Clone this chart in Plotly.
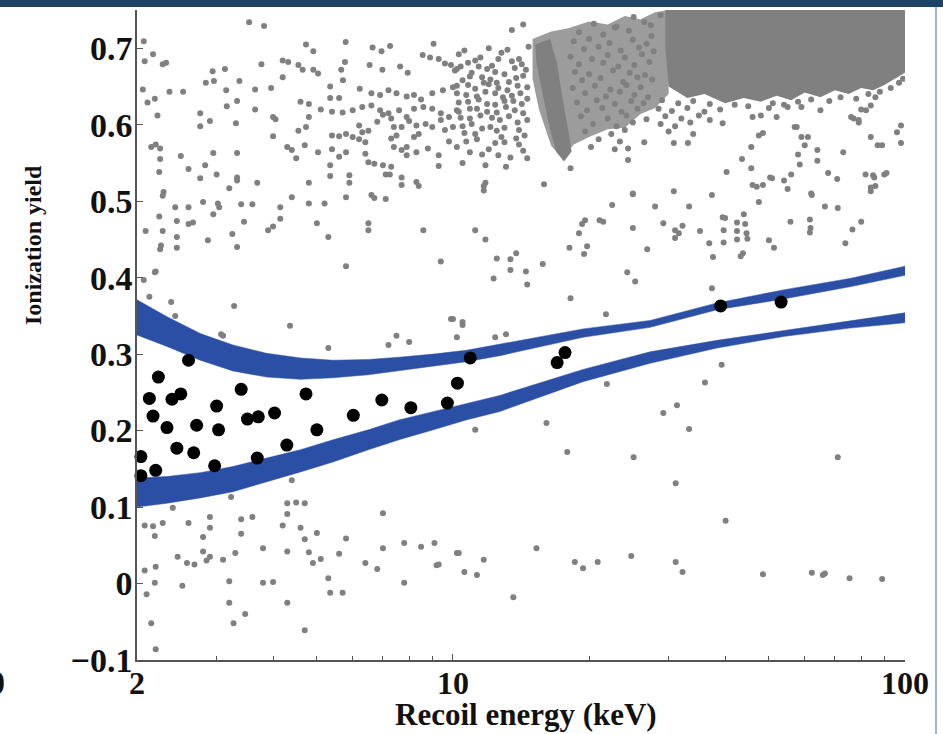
import math
import plotly.graph_objects as go

# ---------------- data ----------------
# black points: measured ionization yield (x = recoil energy keV, y = yield)
black_x = [2.00, 2.04, 2.04, 2.13, 2.17, 2.20, 2.23, 2.33, 2.39, 2.45, 2.50, 2.60, 2.67, 2.71,
           2.97, 3.00, 3.03, 3.40, 3.51, 3.71, 3.69, 4.03, 4.29, 4.73, 5.00, 6.02, 6.96, 8.07,
           9.72, 10.23, 10.92, 17.0, 17.7, 39.1, 53.2]
black_y = [0.219, 0.166, 0.141, 0.242, 0.219, 0.148, 0.270, 0.204, 0.241, 0.177, 0.248, 0.292,
           0.171, 0.207, 0.154, 0.232, 0.201, 0.254, 0.215, 0.218, 0.164, 0.223, 0.181, 0.248,
           0.201, 0.220, 0.240, 0.230, 0.236, 0.262, 0.295, 0.289, 0.302, 0.363, 0.368]

# blue bands (upper = band A, lower = band B)
band_x = [2.0, 2.33, 2.76, 3.26, 3.87, 4.6, 5.43, 6.5, 7.6, 9.05, 10.7, 12.7, 19.4, 27.3, 38.4, 53.8, 75.5, 100.0]
bandA_top = [0.371, 0.349, 0.327, 0.312, 0.301, 0.295, 0.292, 0.293, 0.296, 0.300, 0.305, 0.313, 0.333, 0.344, 0.367, 0.384, 0.399, 0.415]
bandA_bot = [0.325, 0.310, 0.292, 0.278, 0.270, 0.267, 0.269, 0.273, 0.278, 0.284, 0.290, 0.298, 0.322, 0.335, 0.358, 0.372, 0.388, 0.403]
bandB_top = [0.138, 0.140, 0.145, 0.153, 0.164, 0.175, 0.188, 0.201, 0.214, 0.225, 0.236, 0.246, 0.280, 0.303, 0.318, 0.331, 0.344, 0.354]
bandB_bot = [0.100, 0.105, 0.112, 0.120, 0.133, 0.146, 0.159, 0.175, 0.188, 0.201, 0.214, 0.225, 0.264, 0.288, 0.308, 0.323, 0.334, 0.341]

# dense gray clouds (outline of the event populations too dense to resolve)
core_x = [29.5, 100, 100, 95, 90, 85, 80, 75, 70, 65, 60, 56, 52, 48, 44, 40, 36, 33, 30, 29.5]
core_y = [0.75, 0.75, 0.668, 0.660, 0.652, 0.645, 0.648, 0.640, 0.645, 0.636, 0.642, 0.632, 0.638, 0.630, 0.635, 0.628, 0.640, 0.635, 0.650, 0.700]
mid_x = [15.0, 16.5, 18.0, 20.0, 22.0, 24.0, 26.0, 28.0, 30.0, 30.0, 28.0, 26.0, 24.0, 22.0, 20.0, 18.5, 17.5, 16.5, 15.5, 15.0]
mid_y = [0.712, 0.722, 0.726, 0.735, 0.731, 0.742, 0.738, 0.747, 0.750, 0.640, 0.622, 0.614, 0.596, 0.594, 0.584, 0.574, 0.556, 0.572, 0.620, 0.660]
streak_x = [15.2, 16.4, 17.0, 17.4, 17.9, 18.3, 17.6, 16.9, 16.3, 15.8, 15.3]
streak_y = [0.705, 0.712, 0.680, 0.640, 0.600, 0.565, 0.552, 0.565, 0.600, 0.640, 0.680]

# gray points, upper left (2-11 keV, above bands)
gray_ul = [
    (3.54, 0.734), (3.82, 0.729), (2.07, 0.709), (2.17, 0.692), (2.08, 0.683), (2.28, 0.679), (2.32, 0.681),
    (2.06, 0.646), (2.11, 0.629), (2.19, 0.634), (2.36, 0.643), (2.53, 0.643), (2.22, 0.612), (2.94, 0.670),
    (3.13, 0.673), (2.84, 0.655), (2.96, 0.657), (3.37, 0.657), (3.15, 0.645), (3.65, 0.646), (3.77, 0.679),
    (3.33, 0.631), (3.16, 0.624), (3.65, 0.620), (2.76, 0.615), (2.90, 0.605), (2.76, 0.598), (3.31, 0.602),
    (3.96, 0.648), (4.20, 0.684), (4.32, 0.682), (4.20, 0.662), (4.73, 0.705), (4.91, 0.696), (4.55, 0.678),
    (4.65, 0.672), (4.91, 0.672), (5.03, 0.667), (5.79, 0.708), (5.77, 0.682), (5.66, 0.672), (5.71, 0.658),
    (5.35, 0.650), (6.64, 0.701), (6.95, 0.696), (7.26, 0.703), (6.54, 0.678), (6.98, 0.672), (7.64, 0.676),
    (7.94, 0.668), (8.57, 0.691), (9.06, 0.706), (8.9, 0.688), (9.3, 0.686), (9.6, 0.680), (9.9, 0.678),
    (10.2, 0.673), (6.22, 0.647), (6.6, 0.641), (6.9, 0.639), (7.2, 0.645), (7.5, 0.641), (7.9, 0.637),
    (8.2, 0.639), (8.5, 0.633), (9.0, 0.641), (9.5, 0.645), (10.0, 0.649), (4.6, 0.630), (4.8, 0.627),
    (5.1, 0.620), (5.35, 0.635), (5.6, 0.635), (5.4, 0.617), (5.7, 0.616), (6.0, 0.619), (6.3, 0.623),
    (6.6, 0.625), (6.9, 0.619), (7.2, 0.615), (7.6, 0.619), (7.9, 0.610), (8.2, 0.621), (8.6, 0.623),
    (9.0, 0.621), (9.4, 0.615), (9.8, 0.610), (10.2, 0.619), (4.0, 0.610), (4.05, 0.607), (4.8, 0.610),
    (4.0, 0.585), (4.55, 0.592), (4.73, 0.597), (4.7, 0.573), (4.3, 0.571), (4.4, 0.567), (4.5, 0.556),
    (5.03, 0.564), (5.4, 0.568), (5.6, 0.558), (5.8, 0.564), (5.4, 0.586), (5.6, 0.585), (5.8, 0.588),
    (6.0, 0.584), (6.2, 0.599), (6.3, 0.590), (6.5, 0.592), (6.2, 0.581), (6.4, 0.577), (6.8, 0.604),
    (7.0, 0.613), (7.3, 0.608), (7.4, 0.597), (7.5, 0.586), (7.3, 0.582), (7.7, 0.597), (8.0, 0.605),
    (8.3, 0.599), (8.4, 0.588), (8.2, 0.584), (7.9, 0.571), (7.7, 0.567), (8.7, 0.601), (9.0, 0.597),
    (9.4, 0.606), (9.6, 0.593), (10.0, 0.597), (6.4, 0.562), (6.5, 0.551), (6.7, 0.549), (7.0, 0.547),
    (7.3, 0.545), (7.4, 0.571), (7.9, 0.560), (8.3, 0.564), (8.8, 0.569), (9.3, 0.560), (9.8, 0.578),
    (5.35, 0.547), (5.35, 0.533), (5.9, 0.534), (5.9, 0.524), (4.8, 0.524), (4.4, 0.505), (4.8, 0.497),
    (5.2, 0.497), (5.8, 0.505), (6.6, 0.508), (6.7, 0.504), (7.1, 0.503), (7.1, 0.535), (7.25, 0.535),
    (7.7, 0.531), (7.7, 0.521), (8.3, 0.525), (8.4, 0.520), (9.3, 0.546), (5.0, 0.471), (5.3, 0.453),
    (6.5, 0.471), (6.5, 0.462), (8.6, 0.462), (5.8, 0.415), (9.4, 0.421),
    (2.15, 0.571), (2.2, 0.574), (2.25, 0.569), (2.25, 0.555), (2.24, 0.538), (2.50, 0.559), (2.60, 0.542),
    (2.83, 0.547), (2.95, 0.563), (3.0, 0.535), (2.76, 0.530), (3.33, 0.563), (3.33, 0.531), (3.33, 0.527),
    (3.2, 0.517), (3.69, 0.524), (2.29, 0.512), (2.28, 0.507), (2.24, 0.480), (2.43, 0.492), (2.6, 0.492),
    (2.8, 0.499), (3.02, 0.497), (3.04, 0.492), (2.95, 0.483), (3.4, 0.496), (3.6, 0.496), (2.45, 0.474),
    (2.6, 0.470), (2.66, 0.472), (2.28, 0.461), (2.09, 0.461), (2.45, 0.453), (2.45, 0.439), (2.26, 0.442),
    (2.25, 0.437), (2.87, 0.449), (3.25, 0.457), (3.33, 0.440), (3.45, 0.473), (3.9, 0.462), (4.0, 0.467),
    (4.15, 0.477), (4.15, 0.492), (2.2, 0.408),
    (2.19, 0.407), (2.07, 0.397), (2.13, 0.375), (2.38, 0.368), (2.43, 0.350), (3.28, 0.363), (3.07, 0.326),
    (3.1, 0.324), (4.36, 0.337), (5.3, 0.308), (7.2, 0.312), (7.5, 0.324), (8.0, 0.316), (9.9, 0.346),
    (10.2, 0.322),
]

# gray points, lower left (2-11 keV, below bands)
gray_ll = [
    (4.4, 0.135), (3.23, 0.113), (2.4, 0.099), (4.3, 0.105), (4.5, 0.106), (4.7, 0.105), (4.3, 0.091),
    (4.2, 0.076), (4.6, 0.073), (2.9, 0.087), (2.9, 0.073), (2.28, 0.079), (2.08, 0.076), (2.17, 0.075),
    (2.6, 0.079), (2.19, 0.062), (2.8, 0.061), (3.4, 0.084), (3.6, 0.087), (3.4, 0.065), (5.0, 0.066),
    (4.7, 0.058), (5.8, 0.059), (7.0, 0.092), (3.8, 0.046), (2.46, 0.035), (2.58, 0.027), (2.68, 0.025),
    (2.8, 0.042), (2.85, 0.030), (2.9, 0.035), (3.1, 0.031), (3.3, 0.040), (4.3, 0.042), (4.8, 0.041),
    (4.9, 0.027), (5.1, 0.032), (5.6, 0.039), (6.4, 0.027), (6.8, 0.019), (7.0, 0.046), (7.8, 0.053),
    (8.5, 0.048), (9.1, 0.053), (9.2, 0.024), (9.3, 0.025), (10.2, 0.040), (2.08, 0.017), (2.2, 0.022),
    (2.19, 0.001), (2.1, -0.014), (2.52, -0.003), (3.2, 0.003), (3.8, 0.001), (4.0, 0.002), (5.3, 0.007),
    (5.35, -0.012), (5.7, -0.012), (7.8, 0.001), (3.2, -0.025), (4.3, -0.025), (3.47, -0.040), (3.27, -0.052),
    (2.15, -0.052), (4.7, -0.061), (2.2, -0.086),
]

# gray points, right part (10-100 keV)
gray_r = [
    (15.9, 0.522), (11.7, 0.520), (11.8, 0.524), (11.2, 0.462), (11.8, 0.450), (12.5, 0.425), (13.4, 0.424),
    (13.8, 0.432), (12.3, 0.399), (13.4, 0.410), (14.5, 0.408), (14.6, 0.391), (15.8, 0.418), (18.1, 0.439),
    (19.0, 0.458), (19.6, 0.475), (19.3, 0.470), (19.8, 0.441), (19.5, 0.431), (21.1, 0.475), (21.5, 0.473),
    (22.5, 0.495), (25.0, 0.509), (25.0, 0.465), (26.9, 0.437), (24.3, 0.407), (25.3, 0.395), (28.0, 0.493),
    (18.2, 0.373), (21.8, 0.352), (10.5, 0.342), (10.5, 0.338), (10.0, 0.346), (12.4, 0.322), (13.1, 0.326),
    (21.9, 0.261), (29.2, 0.471), (31.0, 0.462), (31.6, 0.458), (31.0, 0.452), (32.2, 0.468), (30.8, 0.513),
    (33.3, 0.493), (35.2, 0.461), (37.4, 0.508), (36.9, 0.445), (37.6, 0.427), (39.5, 0.479), (40.0, 0.478),
    (39.7, 0.462), (39.7, 0.446), (42.5, 0.472), (42.5, 0.461), (42.5, 0.450), (44.3, 0.470), (44.6, 0.458),
    (44.8, 0.451), (44.0, 0.483), (43.3, 0.428), (43.8, 0.432), (37.4, 0.386), (46.0, 0.521), (47.0, 0.519),
    (47.5, 0.499), (50.0, 0.449), (51.3, 0.439), (50.8, 0.530), (54.0, 0.527), (55.0, 0.516), (56.0, 0.535),
    (55.8, 0.473), (61.6, 0.476), (61.8, 0.465), (61.6, 0.459), (62.2, 0.508), (66.5, 0.493), (71.0, 0.491),
    (67.6, 0.537), (70.8, 0.529), (73.8, 0.445), (76.5, 0.463), (80.0, 0.473), (81.8, 0.535), (85.5, 0.531),
    (90.0, 0.535), (84.0, 0.513), (86.0, 0.520), (39.3, 0.286), (36.1, 0.263), (31.3, 0.233), (29.2, 0.223),
    (11.2, 0.201), (16.1, 0.210), (17.9, 0.172), (25.1, 0.165), (33.3, 0.202), (31.1, 0.131), (40.1, 0.082),
    (71.0, 0.165), (10.3, 0.040), (10.6, 0.015), (11.3, 0.011), (11.7, 0.031), (13.6, -0.018), (15.3, 0.046),
    (18.6, 0.028), (19.4, 0.020), (20.9, 0.028), (24.8, 0.036), (31.1, 0.028), (32.2, 0.015), (48.5, 0.012),
    (62.2, 0.014), (65.8, 0.011), (66.5, 0.013), (75.4, 0.007), (89.0, 0.006),
    (13.5, 0.724), (14.3, 0.731), (25.1, 0.741), (28.8, 0.743), (22.8, 0.727), (27.4, 0.730), (10.5, 0.550),
    (11.8, 0.547), (13.1, 0.545), (11.7, 0.514), (18.2, 0.543), (24.4, 0.569), (24.4, 0.554), (26.5, 0.577),
    (30.8, 0.576), (33.1, 0.576), (25.0, 0.510), (40.3, 0.538), (43.6, 0.555), (45.7, 0.543), (45.7, 0.571),
    (48.5, 0.521), (48.5, 0.589), (50.3, 0.531), (57.0, 0.597), (59.0, 0.584), (60.0, 0.573), (58.0, 0.561),
    (58.5, 0.548), (62.0, 0.510), (64.0, 0.567), (64.0, 0.553), (73.0, 0.564), (77.0, 0.608), (79.0, 0.603),
    (82.0, 0.619), (84.0, 0.584), (87.0, 0.573), (85.0, 0.534), (91.0, 0.537), (98.0, 0.599), (98.0, 0.576),
    (96.0, 0.590), (84.0, 0.518), (46.0, 0.610), (48.0, 0.612), (52.0, 0.610), (57.6, 0.597), (65.0, 0.619),
    (76.0, 0.610), (79.0, 0.606), (84.0, 0.625), (86.0, 0.636), (80.0, 0.620), (59.0, 0.623), (51.0, 0.628),
    (55.0, 0.623), (47.5, 0.586), (61.0, 0.584), (89.0, 0.573), (37.0, 0.606), (39.5, 0.602),
]

# gray points in the moderately dense cloud (10-40 keV)
gray_cloud = [
    (10.3, 0.692), (11.5, 0.688), (12.8, 0.694), (14.0, 0.686), (10.8, 0.681), (12.2, 0.677), (13.5, 0.683),
    (10.1, 0.671), (11.0, 0.668), (11.9, 0.673), (13.0, 0.666), (14.5, 0.672), (10.5, 0.658), (11.6, 0.662),
    (12.5, 0.655), (13.8, 0.661), (10.2, 0.651), (11.2, 0.647), (12.0, 0.653), (13.2, 0.645), (14.6, 0.649),
    (10.7, 0.639), (11.8, 0.643), (12.9, 0.636), (14.1, 0.641), (10.3, 0.629), (11.4, 0.633), (12.4, 0.626),
    (13.6, 0.631), (10.9, 0.621), (11.9, 0.617), (13.1, 0.623), (14.3, 0.615), (10.4, 0.609), (11.5, 0.612),
    (12.7, 0.606), (11.0, 0.601), (12.1, 0.597), (13.9, 0.603), (10.6, 0.589), (12.5, 0.592), (14.4, 0.586),
    (11.3, 0.581), (13.0, 0.577), (10.2, 0.571), (12.0, 0.568), (14.0, 0.574), (11.6, 0.561), (13.4, 0.557),
    (10.6, 0.697), (12.0, 0.700), (13.2, 0.698), (14.7, 0.702), (11.2, 0.684), (12.6, 0.686), (14.2, 0.679),
    (10.4, 0.676), (11.4, 0.676), (12.4, 0.669), (13.7, 0.674), (10.9, 0.663), (12.1, 0.659), (13.3, 0.656),
    (14.3, 0.664), (10.8, 0.652), (11.7, 0.655), (12.6, 0.648), (13.9, 0.651), (10.2, 0.641), (11.3, 0.637),
    (12.4, 0.641), (13.5, 0.638), (14.6, 0.634), (10.8, 0.630), (11.9, 0.627), (13.0, 0.631), (14.2, 0.627),
    (10.3, 0.617), (11.3, 0.621), (12.5, 0.616), (13.7, 0.619), (10.9, 0.608), (12.2, 0.609), (13.3, 0.611),
    (14.6, 0.606), (10.5, 0.598), (11.6, 0.595), (13.0, 0.596), (14.0, 0.593), (11.2, 0.588), (12.8, 0.584),
    (13.8, 0.582), (10.7, 0.578), (12.4, 0.576), (14.3, 0.566), (10.9, 0.564), (12.6, 0.560), (14.6, 0.556),
    (20.5, 0.732), (23.0, 0.728), (26.5, 0.734), (19.0, 0.721), (21.5, 0.718), (24.5, 0.723), (27.5, 0.716),
    (18.5, 0.709), (20.0, 0.712), (22.2, 0.707), (25.0, 0.711), (26.8, 0.706), (19.5, 0.699), (21.0, 0.702),
    (23.5, 0.697), (25.8, 0.701), (27.8, 0.696), (18.2, 0.689), (20.3, 0.686), (22.0, 0.691), (24.0, 0.688),
    (26.2, 0.692), (19.0, 0.679), (21.5, 0.681), (23.2, 0.676), (25.2, 0.678), (27.2, 0.682), (18.6, 0.669),
    (20.0, 0.666), (22.6, 0.671), (24.6, 0.668), (26.6, 0.665), (19.3, 0.658), (21.2, 0.661), (23.8, 0.656),
    (25.6, 0.662), (27.6, 0.659), (18.4, 0.648), (20.6, 0.651), (22.3, 0.646), (24.2, 0.652), (26.0, 0.649),
    (19.6, 0.641), (21.8, 0.637), (23.4, 0.643), (25.2, 0.639), (27.0, 0.636), (18.8, 0.629), (20.8, 0.632),
    (22.8, 0.627), (24.8, 0.631), (26.4, 0.628), (19.8, 0.619), (21.4, 0.622), (23.6, 0.617), (25.6, 0.621),
    (19.2, 0.611), (22.0, 0.608), (24.2, 0.612), (26.8, 0.607), (20.4, 0.601), (23.0, 0.598), (25.0, 0.603),
    (19.6, 0.591), (22.4, 0.588), (24.0, 0.593), (21.0, 0.581), (23.4, 0.578), (20.2, 0.571), (22.8, 0.568),
    (29.0, 0.632), (31.5, 0.628), (34.0, 0.631), (37.0, 0.627), (28.5, 0.621), (30.5, 0.618), (33.0, 0.622),
    (36.0, 0.617), (39.0, 0.620), (29.5, 0.611), (32.0, 0.608), (35.0, 0.612), (28.8, 0.601), (31.0, 0.598),
    (33.5, 0.603), (30.0, 0.591), (34.0, 0.588),
    (42.0, 0.626), (45.0, 0.624), (50.0, 0.622), (54.0, 0.626), (58.0, 0.630), (62.0, 0.633), (68.0, 0.631),
    (72.0, 0.636), (78.0, 0.634), (83.0, 0.640), (88.0, 0.643), (93.0, 0.648), (97.0, 0.655), (99.0, 0.660),
]

y_tickvals = [-0.1, 0.0, 0.1, 0.2, 0.3, 0.4, 0.5, 0.6, 0.7]
y_ticktext = ["\u22120.1", "0", "0.1", "0.2", "0.3", "0.4", "0.5", "0.6", "0.7"]
x_tickvals = [2, 10, 100]
x_ticktext = ["2", "10", "100"]
x_minor = [3, 4, 5, 6, 7, 8, 9, 20, 30, 40, 50, 60, 70, 80, 90]

# ---------------- styling ----------------
GRAY = "#808080"
GRAY_MID = "#9c9c9c"
BLUE = "#2c4fa6"
FONT = "Liberation Serif"
W, H = 943, 734
L, R, T, B = 137, 38, 10, 74
pw, ph = W - L - R, H - T - B


def px_to_paper_x(px):
    return (px - L) / pw


def py_to_paper_y(py):
    return (H - B - py) / ph


fig = go.Figure()

for xs, ys, col in [(mid_x, mid_y, GRAY_MID), (core_x, core_y, GRAY), (streak_x, streak_y, GRAY)]:
    fig.add_trace(go.Scatter(x=xs, y=ys, mode="lines", fill="toself", fillcolor=col,
                             line=dict(width=0, color=col), hoverinfo="skip", showlegend=False))

for pts in [gray_ul, gray_ll, gray_r, gray_cloud]:
    xs = [p[0] for p in pts]
    ys = [p[1] for p in pts]
    fig.add_trace(go.Scatter(x=xs, y=ys, mode="markers",
                             marker=dict(size=6, color=GRAY, line=dict(width=0)),
                             showlegend=False))

for top, bot in [(bandA_top, bandA_bot), (bandB_top, bandB_bot)]:
    fig.add_trace(go.Scatter(x=band_x + band_x[::-1], y=top + bot[::-1], mode="lines",
                             fill="toself", fillcolor=BLUE, line=dict(width=0.5, color=BLUE),
                             hoverinfo="skip", showlegend=False))

fig.add_trace(go.Scatter(x=black_x, y=black_y, mode="markers", cliponaxis=False,
                         marker=dict(size=13, color="black", line=dict(width=0)),
                         showlegend=False))

ytickfont = dict(family=FONT, size=34, color="#111111", weight="bold")
xtickfont = dict(family=FONT, size=32, color="#111111", weight="bold")

fig.update_layout(
    width=W, height=H, autosize=False,
    margin=dict(l=L, r=R, t=T, b=B, pad=0),
    paper_bgcolor="white", plot_bgcolor="white",
    xaxis=dict(type="log", range=[math.log10(2), 2], tickmode="array",
               tickvals=x_tickvals, ticktext=x_ticktext, ticks="inside", ticklen=6,
               tickwidth=1.2, tickcolor="#555", showline=True, linecolor="#555", linewidth=1.5,
               showgrid=False, zeroline=False, tickfont=xtickfont, ticklabelstandoff=-6,
               minor=dict(tickmode="array", tickvals=x_minor, ticks="inside", ticklen=4,
                          tickwidth=1, tickcolor="#555", showgrid=False)),
    yaxis=dict(range=[-0.1, 0.75], tickmode="array", tickvals=y_tickvals, ticktext=y_ticktext,
               ticks="inside", ticklen=6, tickwidth=1.2, tickcolor="#555", showline=True,
               linecolor="#555", linewidth=1.5, showgrid=False, zeroline=False, tickfont=ytickfont,
               ticklabelstandoff=-4),
    annotations=[
        dict(text="Ionization yield", textangle=-90, xref="paper", yref="paper",
             x=px_to_paper_x(33), y=py_to_paper_y(245), xanchor="center", yanchor="middle",
             showarrow=False, font=dict(family=FONT, size=24, color="#111111", weight="bold")),
        dict(text="Recoil energy (keV)", xref="paper", yref="paper",
             x=px_to_paper_x(526), y=py_to_paper_y(714), xanchor="center", yanchor="middle",
             showarrow=False, font=dict(family=FONT, size=31, color="#111111", weight="bold")),
        dict(text="0", xref="paper", yref="paper", x=px_to_paper_x(7), y=py_to_paper_y(682),
             xanchor="right", yanchor="middle", showarrow=False,
             font=dict(family=FONT, size=34, color="#111111", weight="bold")),
    ],
    shapes=[
        dict(type="rect", xref="paper", yref="paper", x0=px_to_paper_x(-5), x1=px_to_paper_x(950),
             y0=py_to_paper_y(7), y1=py_to_paper_y(-5), fillcolor="#1d4169", line=dict(width=0),
             layer="above"),
        dict(type="line", xref="paper", yref="paper", x0=px_to_paper_x(936), x1=px_to_paper_x(936),
             y0=py_to_paper_y(740), y1=py_to_paper_y(7), line=dict(color="#9db3c9", width=2)),
    ],
)

fig.write_html("out.html")
